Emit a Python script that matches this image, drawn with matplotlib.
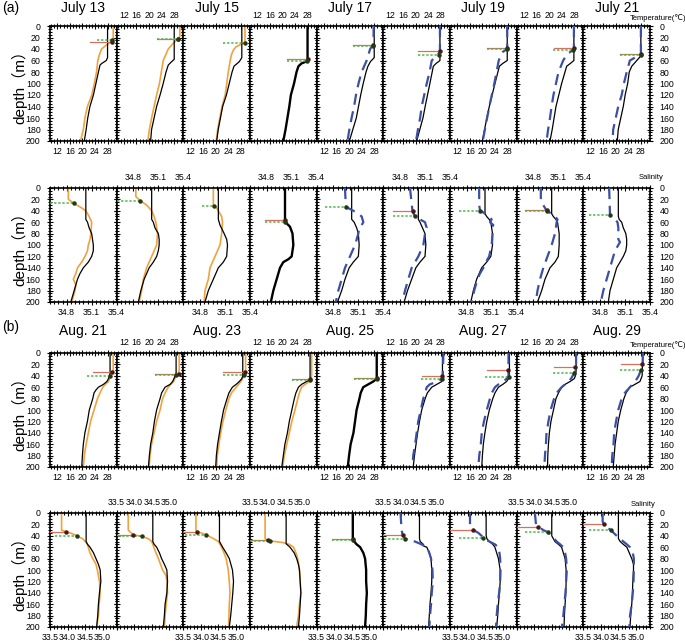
"""
Profils verticaux temperature / salinite, juillet (a) et aout (b).
9 colonnes par ligne : profil observe (noir) et profil compare
(orange ou tirets bleus), avec les reperes de couche melangee.
"""
import matplotlib
matplotlib.use("Agg")
import matplotlib.pyplot as plt
from matplotlib.ticker import MultipleLocator, FixedLocator

plt.rcParams["font.family"] = ["Liberation Sans", "DejaVu Sans", "Noto Sans CJK SC"]

W, H = 685, 642

# ---------------------------------------------------------------- titres
jul_titles = ["July 13", "", "July 15", "", "July 17", "", "July 19", "", "July 21"]
aug_titles = ["Aug. 21", "", "Aug. 23", "", "Aug. 25", "", "Aug. 27", "", "Aug. 29"]

# type du 2e profil : o = orange, b = tirets bleus, k = noir seul
jul_kind = ["o", "o", "o", "k", "b", "b", "b", "b", "b"]
aug_kind = ["o", "o", "o", "o", "k", "b", "b", "b", "b"]

# ---------------------------------------------------------------- (a) temperature juillet
jul_temp_obs = [
    ([0, 55, 60, 65, 68, 80, 100, 120, 140, 160, 180, 200],
     [28.0, 28.0, 27.6, 26.2, 25.6, 25.1, 24.3, 23.5, 22.4, 21.7, 21.2, 20.6]),
    ([0, 58, 63, 68, 80, 100, 120, 140, 160, 180, 200],
     [28.0, 28.0, 27.0, 26.1, 25.4, 24.5, 23.5, 22.4, 21.6, 20.8, 20.5]),
    ([0, 55, 62, 70, 80, 100, 120, 140, 160, 180, 200],
     [28.3, 28.3, 27.5, 25.8, 25.2, 24.3, 23.4, 22.2, 21.5, 20.8, 20.3]),
    ([0, 57, 62, 65, 70, 80, 100, 120, 140, 160, 180, 200],
     [28.0, 28.0, 27.5, 26.1, 25.1, 24.5, 23.7, 22.7, 22.2, 21.6, 21.0, 20.3]),
    ([0, 55, 62, 70, 80, 100, 120, 140, 160, 180, 200],
     [28.0, 28.0, 26.8, 26.0, 25.4, 24.5, 23.7, 23.0, 22.3, 21.2, 20.1]),
    ([0, 60, 65, 70, 100, 140, 160, 180, 200],
     [27.7, 27.7, 26.5, 25.6, 24.5, 23.0, 22.3, 21.3, 20.3]),
    ([0, 60, 65, 70, 100, 140, 160, 180, 200],
     [27.9, 27.9, 26.5, 25.4, 24.0, 22.2, 21.4, 20.7, 20.0]),
    ([0, 60, 65, 70, 100, 140, 160, 180, 200],
     [27.9, 27.9, 26.8, 25.6, 24.0, 22.2, 21.6, 21.0, 20.3]),
    ([0, 52, 60, 70, 80, 100, 120, 140, 160, 180, 200],
     [28.0, 28.0, 26.7, 25.1, 24.3, 23.8, 23.0, 22.4, 21.6, 20.8, 20.5]),
]
jul_temp_mod = [
    ([0, 25, 27, 35, 40, 50, 60, 80, 100, 120, 140, 160, 180, 200],
     [29.8, 29.8, 29.2, 27.2, 26.1, 25.4, 24.9, 24.5, 23.8, 23.0, 21.6, 20.8, 20.3, 19.4]),
    ([0, 18, 22, 30, 40, 50, 60, 80, 100, 120, 140, 160, 180, 200],
     [29.8, 29.8, 29.3, 27.7, 26.1, 25.3, 24.5, 23.9, 23.3, 22.4, 21.6, 20.8, 20.1, 19.6]),
    ([0, 28, 32, 36, 42, 50, 60, 80, 100, 120, 140, 160, 180, 200],
     [29.3, 29.3, 28.0, 26.5, 25.6, 25.0, 24.6, 24.0, 23.5, 23.0, 22.0, 21.3, 20.6, 20.2]),
    None,
    ([0, 30, 33, 40, 60, 80, 100, 120, 140, 160, 180, 200],
     [27.8, 27.8, 27.7, 26.7, 25.6, 24.0, 23.0, 22.2, 21.6, 20.8, 20.1, 19.5]),
    ([0, 40, 45, 50, 55, 60, 80, 100, 120, 140, 160, 180, 200],
     [27.7, 27.7, 27.6, 27.0, 26.1, 25.1, 24.4, 23.5, 22.7, 21.9, 21.4, 20.7, 20.1]),
    ([0, 40, 45, 55, 60, 80, 100, 140, 180, 200],
     [27.9, 27.9, 26.5, 25.6, 25.2, 24.5, 23.8, 22.2, 20.8, 20.1]),
    ([0, 38, 42, 50, 60, 80, 100, 120, 140, 160, 180, 200],
     [27.9, 27.9, 27.5, 25.6, 24.5, 23.0, 22.2, 21.4, 20.8, 20.3, 19.7, 19.2]),
    ([0, 50, 55, 60, 80, 100, 120, 140, 160, 180, 200],
     [28.0, 28.0, 26.1, 24.5, 23.5, 22.6, 21.9, 20.8, 20.0, 19.2, 19.0]),
]
# reperes : (profondeur, x debut, x fin)
jul_temp_red = [(27, 22.4, 29.3), (22, 22.4, 29.3), None, (57, 21.6, 28.0), (33, 21.2, 27.7),
                (43, 20.8, 27.7), (39, 21.4, 27.8), (38, 21.6, 27.9), (49.5, 21.4, 28.0)]
jul_temp_green = [(25, 24.5, 29.3), (23, 22.4, 29.3), (30, 22.4, 29.3), (61, 21.6, 27.8),
                  (34, 21.2, 27.7), (50, 20.8, 27.4), (40, 21.4, 27.7), (42, 21.4, 27.7),
                  (50, 21.4, 28.0)]

# ---------------------------------------------------------------- (a) salinite juillet
jul_sal_obs = [
    ([0, 55, 60, 70, 80, 90, 100, 110, 120, 130, 140, 150, 160, 180, 200],
     [35.03, 35.03, 35.05, 35.07, 35.10, 35.11, 35.12, 35.12, 35.10, 35.06, 35.00, 34.96, 34.93, 34.89, 34.85]),
    ([0, 55, 60, 70, 80, 90, 100, 110, 120, 130, 140, 160, 180, 200],
     [35.02, 35.02, 35.04, 35.06, 35.10, 35.11, 35.11, 35.10, 35.08, 35.04, 34.99, 34.93, 34.89, 34.86]),
    ([0, 55, 65, 80, 90, 100, 120, 130, 140, 160, 180, 200],
     [35.02, 35.02, 35.04, 35.09, 35.12, 35.13, 35.12, 35.08, 35.02, 34.96, 34.90, 34.86]),
    ([0, 57, 62, 68, 80, 100, 110, 120, 125, 130, 140, 160, 180, 200],
     [35.02, 35.02, 35.04, 35.08, 35.11, 35.12, 35.11, 35.10, 35.06, 35.00, 34.96, 34.92, 34.88, 34.85]),
    ([0, 55, 60, 70, 80, 100, 120, 130, 140, 160, 180, 200],
     [35.02, 35.02, 35.05, 35.08, 35.10, 35.11, 35.10, 35.04, 34.99, 34.94, 34.90, 34.85]),
    ([0, 55, 60, 70, 80, 100, 120, 130, 140, 160, 180, 200],
     [35.02, 35.02, 35.04, 35.07, 35.10, 35.11, 35.10, 35.04, 34.99, 34.94, 34.89, 34.85]),
    ([0, 45, 50, 55, 60, 70, 80, 100, 120, 130, 140, 160, 180, 200],
     [35.02, 35.02, 35.04, 35.07, 35.09, 35.10, 35.11, 35.11, 35.09, 35.04, 34.98, 34.92, 34.88, 34.85]),
    ([0, 45, 50, 55, 60, 80, 100, 120, 130, 140, 160, 180, 200],
     [35.02, 35.02, 35.04, 35.07, 35.09, 35.11, 35.11, 35.10, 35.06, 35.00, 34.94, 34.90, 34.85]),
    ([0, 50, 55, 60, 70, 80, 90, 100, 110, 120, 130, 140, 160, 180, 200],
     [35.02, 35.02, 35.03, 35.06, 35.08, 35.11, 35.12, 35.12, 35.11, 35.08, 35.04, 35.00, 34.96, 34.92, 34.90]),
]
jul_sal_mod = [
    ([0, 20, 27, 35, 40, 50, 60, 80, 90, 100, 110, 120, 130, 140, 150, 160, 170, 180, 200],
     [34.82, 34.82, 34.89, 34.98, 35.03, 35.07, 35.10, 35.09, 35.08, 35.06, 35.05, 35.02, 34.98, 34.93, 34.91, 34.88, 34.91, 34.90, 34.86]),
    ([0, 15, 22, 30, 40, 50, 60, 80, 100, 110, 120, 140, 160, 180, 200],
     [34.83, 34.83, 34.88, 34.96, 35.02, 35.05, 35.07, 35.09, 35.08, 35.05, 35.02, 34.96, 34.92, 34.90, 34.87]),
    ([0, 30, 35, 40, 50, 60, 80, 100, 120, 140, 160, 180, 200],
     [34.96, 34.96, 35.00, 35.02, 35.06, 35.07, 35.06, 35.04, 34.98, 34.92, 34.90, 34.86, 34.85]),
    None,
    ([0, 33, 40, 45, 50, 60, 65, 70, 80, 90, 100, 120, 140, 160, 180, 200],
     [34.94, 34.95, 35.04, 35.10, 35.14, 35.16, 35.14, 35.11, 35.10, 35.08, 35.06, 35.00, 34.94, 34.90, 34.86, 34.83]),
    ([0, 41, 50, 55, 60, 70, 80, 100, 120, 140, 160, 180, 200],
     [34.92, 34.95, 34.98, 35.04, 35.10, 35.12, 35.10, 35.08, 35.02, 34.94, 34.90, 34.86, 34.83]),
    ([0, 30, 39, 45, 50, 55, 60, 65, 70, 80, 100, 120, 130, 140, 150, 160, 180, 200],
     [34.95, 34.95, 34.96, 35.02, 35.06, 35.10, 35.08, 35.12, 35.10, 35.11, 35.10, 35.07, 35.03, 35.00, 34.96, 34.93, 34.89, 34.86]),
    ([0, 20, 30, 40, 45, 50, 55, 60, 80, 100, 120, 140, 160, 180, 200],
     [34.89, 34.89, 34.92, 34.96, 35.02, 35.06, 35.09, 35.08, 35.06, 35.02, 34.97, 34.92, 34.88, 34.85, 34.83]),
    ([0, 48, 55, 60, 70, 80, 90, 95, 100, 110, 120, 140, 160, 180, 200],
     [34.91, 34.92, 34.98, 35.01, 35.02, 35.02, 35.02, 35.04, 35.02, 34.98, 34.96, 34.92, 34.88, 34.84, 34.81]),
]
jul_sal_red = [None, None, None, (57, 34.78, 35.02), None,
               (41, 34.72, 34.95), None, (39, 34.70, 34.96), None]
jul_sal_green = [(27, 34.60, 34.89), (22, 34.60, 34.88), (31, 34.82, 34.97), (60, 34.78, 35.02),
                 (33, 34.70, 34.95), (49, 34.72, 34.98), (40, 34.71, 34.96), (41, 34.70, 34.96),
                 (48, 34.67, 34.92)]

# ---------------------------------------------------------------- (b) temperature aout
aug_temp_obs = [
    ([0, 35, 40, 45, 50, 55, 60, 65, 70, 80, 100, 120, 140, 160, 180, 200],
     [28.8, 28.8, 28.6, 28.3, 27.8, 26.7, 25.1, 24.3, 23.7, 23.3, 22.2, 21.6, 20.8, 20.3, 20.0, 19.8]),
    ([0, 35, 40, 50, 55, 60, 70, 80, 100, 120, 140, 160, 180, 200],
     [28.6, 28.6, 28.3, 27.5, 26.7, 25.1, 24.0, 23.5, 22.4, 21.7, 21.2, 20.5, 20.1, 19.8]),
    ([0, 40, 45, 50, 55, 60, 70, 80, 100, 120, 140, 160, 180, 200],
     [28.6, 28.6, 28.3, 27.5, 26.5, 25.3, 24.2, 23.6, 22.5, 21.8, 21.2, 20.6, 20.2, 20.0]),
    ([0, 42, 47, 50, 55, 60, 70, 80, 100, 120, 140, 160, 180, 200],
     [28.8, 28.8, 28.8, 27.7, 26.1, 25.1, 24.3, 23.8, 23.0, 22.2, 21.6, 20.8, 20.3, 19.8]),
    ([0, 40, 45, 50, 55, 60, 70, 80, 100, 120, 140, 160, 180, 200],
     [28.8, 28.8, 28.8, 27.7, 26.1, 24.5, 23.7, 23.3, 22.4, 21.9, 21.4, 20.5, 20.0, 19.6]),
    ([0, 40, 50, 55, 60, 70, 80, 100, 120, 140, 160, 180, 200],
     [28.5, 28.5, 28.3, 26.7, 25.1, 23.7, 23.0, 21.9, 21.2, 20.6, 20.1, 19.6, 19.2]),
    ([0, 40, 45, 50, 55, 60, 70, 80, 100, 120, 140, 160, 180, 200],
     [28.6, 28.6, 28.3, 27.7, 26.5, 25.1, 24.0, 23.3, 22.2, 21.4, 20.8, 20.3, 20.0, 19.8]),
    ([0, 30, 40, 45, 50, 55, 60, 70, 80, 100, 120, 140, 160, 180, 200],
     [28.6, 28.6, 28.4, 28.0, 26.7, 25.1, 24.0, 23.0, 22.2, 21.4, 20.6, 20.1, 19.8, 19.6, 19.5]),
    ([0, 40, 50, 55, 60, 70, 80, 100, 120, 140, 160, 180, 200],
     [28.6, 28.4, 27.7, 26.1, 24.5, 23.3, 22.6, 21.6, 20.8, 20.3, 19.8, 19.5, 19.2]),
]
aug_temp_mod = [
    ([0, 30, 40, 50, 55, 60, 70, 80, 100, 120, 140, 160, 180, 200],
     [29.8, 29.8, 29.0, 28.3, 27.3, 26.5, 25.6, 24.8, 23.7, 22.6, 21.9, 21.2, 20.6, 20.3]),
    ([0, 30, 35, 40, 50, 60, 70, 80, 100, 120, 140, 160, 180, 200],
     [29.6, 29.6, 29.3, 28.6, 27.8, 26.1, 25.1, 24.3, 23.5, 22.4, 21.6, 20.8, 20.3, 20.0]),
    ([0, 35, 40, 50, 60, 70, 80, 100, 120, 140, 160, 180, 200],
     [29.5, 29.5, 29.0, 28.0, 26.5, 25.0, 24.2, 23.2, 22.3, 21.6, 21.0, 20.5, 20.3]),
    ([0, 40, 45, 50, 55, 60, 70, 80, 100, 120, 140, 160, 180, 200],
     [29.3, 29.3, 29.1, 28.6, 27.2, 26.1, 25.4, 24.9, 24.0, 23.0, 22.2, 21.4, 20.6, 20.1]),
    None,
    ([0, 40, 45, 50, 55, 60, 70, 80, 100, 120, 140, 160, 180, 200],
     [28.8, 28.6, 28.3, 27.0, 24.5, 23.5, 23.0, 22.4, 21.6, 20.8, 20.3, 19.8, 19.2, 19.0]),
    ([0, 40, 45, 50, 55, 60, 70, 80, 100, 120, 140, 160, 180, 200],
     [28.3, 28.3, 27.7, 26.7, 25.1, 24.0, 23.0, 22.4, 21.4, 20.5, 19.8, 19.5, 19.0, 18.7]),
    ([0, 30, 35, 45, 50, 55, 60, 70, 80, 100, 120, 140, 160, 180, 200],
     [28.6, 28.6, 28.0, 27.0, 26.2, 25.1, 24.0, 22.4, 21.6, 20.5, 19.8, 19.2, 19.0, 18.7, 18.5]),
    ([0, 25, 30, 40, 50, 60, 70, 80, 100, 120, 140, 160, 180, 200],
     [28.6, 28.6, 28.0, 27.3, 26.2, 24.5, 22.9, 21.9, 20.8, 20.1, 19.5, 19.3, 18.9, 18.7]),
]
aug_temp_red = [(33, 23.3, 29.5), (37, 22.0, 29.4), (33, 22.4, 29.4), (46, 23.0, 28.8),
                (44, 21.6, 28.8), (40, 21.9, 28.5), (29, 21.4, 28.3), (24, 21.6, 28.1),
                (20, 21.6, 28.3)]
aug_temp_green = [(40, 21.6, 28.8), (39, 22.0, 28.6), (38, 22.4, 29.1), (47, 23.0, 28.8),
                  (45.5, 21.6, 28.8), (45, 21.6, 28.3), (42, 20.8, 28.4), (35, 21.4, 27.9),
                  (30, 21.4, 28.0)]

# ---------------------------------------------------------------- (b) salinite aout
aug_sal_obs = [
    ([0, 50, 55, 60, 70, 80, 90, 100, 120, 140, 160, 180, 200],
     [34.53, 34.53, 34.57, 34.64, 34.74, 34.81, 34.88, 34.93, 34.95, 34.91, 34.88, 34.86, 34.83]),
    ([0, 50, 55, 60, 70, 80, 90, 100, 120, 140, 160, 180, 200],
     [34.53, 34.53, 34.57, 34.64, 34.72, 34.78, 34.86, 34.93, 34.95, 34.93, 34.88, 34.86, 34.83]),
    ([0, 50, 60, 70, 80, 100, 120, 140, 160, 180, 200],
     [34.53, 34.53, 34.62, 34.72, 34.81, 34.90, 34.93, 34.91, 34.88, 34.85, 34.81]),
    ([0, 54, 60, 70, 80, 90, 100, 120, 140, 160, 180, 200],
     [34.53, 34.53, 34.64, 34.76, 34.83, 34.88, 34.91, 34.93, 34.95, 34.93, 34.91, 34.88]),
    ([0, 45, 50, 55, 60, 70, 80, 100, 120, 140, 160, 180, 200],
     [34.53, 34.53, 34.57, 34.64, 34.74, 34.83, 34.88, 34.91, 34.91, 34.93, 34.91, 34.90, 34.88]),
    ([0, 45, 50, 55, 58, 60, 70, 80, 100, 120, 140, 160, 180, 200],
     [34.53, 34.53, 34.55, 34.64, 34.65, 34.74, 34.81, 34.86, 34.88, 34.88, 34.86, 34.83, 34.81, 34.79]),
    ([0, 39, 45, 50, 55, 60, 70, 80, 100, 120, 140, 160, 180, 200],
     [34.53, 34.53, 34.55, 34.62, 34.72, 34.78, 34.83, 34.88, 34.93, 34.93, 34.91, 34.88, 34.86, 34.83]),
    ([0, 40, 50, 55, 60, 70, 80, 100, 120, 140, 160, 180, 200],
     [34.50, 34.50, 34.59, 34.69, 34.78, 34.83, 34.88, 34.91, 34.91, 34.90, 34.88, 34.86, 34.85]),
    ([0, 45, 50, 55, 60, 70, 80, 90, 100, 120, 140, 160, 180, 200],
     [34.50, 34.50, 34.55, 34.64, 34.74, 34.81, 34.88, 34.93, 34.93, 34.91, 34.90, 34.88, 34.85, 34.83]),
]
aug_sal_mod = [
    ([0, 30, 33, 35, 38, 41, 45, 50, 55, 60, 70, 80, 90, 100, 110, 120, 140, 160, 180, 200],
     [33.83, 33.83, 33.96, 34.07, 34.21, 34.28, 34.43, 34.50, 34.57, 34.59, 34.64, 34.72, 34.81, 34.85, 34.88, 34.91, 34.93, 34.90, 34.88, 34.83]),
    ([0, 30, 38, 41, 45, 50, 60, 70, 80, 90, 100, 110, 120, 140, 160, 180, 200],
     [33.83, 33.83, 33.96, 34.21, 34.40, 34.50, 34.56, 34.62, 34.69, 34.75, 34.81, 34.91, 34.93, 34.95, 34.91, 34.88, 34.86]),
    ([0, 30, 33, 38, 45, 50, 60, 70, 80, 100, 120, 140, 160, 180, 200],
     [33.86, 33.86, 33.90, 34.15, 34.36, 34.50, 34.59, 34.66, 34.72, 34.78, 34.81, 34.83, 34.81, 34.80, 34.79]),
    ([0, 45, 48, 49, 50, 52, 55, 60, 70, 80, 100, 120, 140, 160, 180, 200],
     [33.93, 33.93, 34.00, 34.08, 34.21, 34.45, 34.62, 34.74, 34.81, 34.86, 34.91, 34.93, 34.95, 34.91, 34.88, 34.83]),
    None,
    ([0, 30, 38, 45, 48, 50, 55, 60, 70, 80, 100, 120, 140, 160, 180, 200],
     [33.99, 34.02, 34.05, 34.12, 34.31, 34.40, 34.59, 34.74, 34.81, 34.86, 34.90, 34.91, 34.88, 34.86, 34.83, 34.81]),
    ([0, 20, 25, 29, 35, 40, 45, 50, 55, 60, 70, 80, 100, 120, 140, 160, 180, 200],
     [34.07, 34.07, 34.12, 34.15, 34.31, 34.40, 34.47, 34.62, 34.78, 34.88, 34.91, 34.93, 34.94, 34.93, 34.90, 34.86, 34.83, 34.81]),
    ([0, 20, 24, 30, 34, 40, 50, 55, 60, 70, 80, 100, 120, 140, 160, 180, 200],
     [34.02, 34.05, 34.12, 34.26, 34.40, 34.50, 34.64, 34.74, 34.83, 34.88, 34.91, 34.93, 34.91, 34.89, 34.86, 34.83, 34.79]),
    ([0, 15, 20, 25, 30, 40, 50, 55, 60, 70, 80, 100, 120, 140, 160, 180, 200],
     [34.05, 34.05, 34.09, 34.17, 34.28, 34.45, 34.64, 34.74, 34.83, 34.91, 34.94, 34.94, 34.93, 34.91, 34.88, 34.83, 34.81]),
]
aug_sal_red = [(33, 33.50, 33.96), (38, 33.50, 33.96), (33, 33.50, 33.90), (47, 33.50, 34.00),
               (45, 33.93, 34.53), (38, 33.50, 34.05), (29, 33.50, 34.15), (24, 33.50, 34.12),
               (20, 33.50, 34.09)]
aug_sal_green = [(41, 33.64, 34.28), (41, 33.55, 34.21), (38, 33.55, 34.15), (49, 33.50, 34.08),
                 (47, 33.93, 34.53), (46, 33.52, 34.12), (43, 33.77, 34.45), (34, 33.74, 34.40),
                 (30, 33.67, 34.28)]

# ---------------------------------------------------------------- axes
temp_lim, temp_ticks, temp_minor = (9.7, 30.9), [12, 16, 20, 24, 28], 1
jsal_lim, jsal_ticks, jsal_minor = (34.6, 35.4), [34.8, 35.1, 35.4], 0.05
asal_lim, asal_ticks, asal_minor = (33.5, 35.4), [33.5, 34.0, 34.5, 35.0], 0.1

rows = [
    (26, 141, jul_temp_obs, jul_temp_mod, jul_temp_red, jul_temp_green, jul_kind,
     temp_lim, temp_ticks, temp_minor, "{:g}"),
    (188, 302, jul_sal_obs, jul_sal_mod, jul_sal_red, jul_sal_green, jul_kind,
     jsal_lim, jsal_ticks, jsal_minor, "{:.1f}"),
    (353, 467, aug_temp_obs, aug_temp_mod, aug_temp_red, aug_temp_green, aug_kind,
     temp_lim, temp_ticks, temp_minor, "{:g}"),
    (513, 627, aug_sal_obs, aug_sal_mod, aug_sal_red, aug_sal_green, aug_kind,
     asal_lim, asal_ticks, asal_minor, "{:.1f}"),
]

ORANGE = "#f2a23c"
BLUE = "#3d4fa3"
RED = "#d9705f"
GREEN = "#45b845"

fig = plt.figure(figsize=(W / 100, H / 100), dpi=100)

x0, pw = 50, 600 / 9
for (top, bot, obs, mod, red, green, kind, xlim, xt, xminor, fmt) in rows:
    for i in range(9):
        ax = fig.add_axes([(x0 + i * pw) / W, 1 - bot / H, pw / W, (bot - top) / H])
        z, v = obs[i]
        lw_k = 1.7 if kind[i] == "k" else 0.9
        ax.plot(v, z, color="black", lw=lw_k, zorder=3)
        if mod[i] is not None:
            zm, vm = mod[i]
            if kind[i] == "o":
                ax.plot(vm, zm, color=ORANGE, lw=1.2, zorder=2)
            else:
                ax.plot(vm, zm, color=BLUE, lw=1.6, dashes=(5, 3), zorder=4)
        if red[i] is not None:
            d, a, b = red[i]
            ax.plot([a, b], [d, d], color=RED, lw=0.9, zorder=5)
            ax.plot(b, d, "o", ms=2.2, color="#4a1810", zorder=6)
        if green[i] is not None:
            d, a, b = green[i]
            ax.plot([a, b], [d, d], color=GREEN, lw=1.1, ls=(0, (1.5, 1.2)), zorder=5)
            ax.plot(b, d, "o", ms=2.2, color="#203a18", zorder=6)

        ax.set_xlim(*xlim)
        ax.set_ylim(200, 0)
        ax.xaxis.set_major_locator(FixedLocator(xt))
        ax.xaxis.set_minor_locator(MultipleLocator(xminor))
        ax.set_xticklabels([fmt.format(t) for t in xt])
        ax.yaxis.set_major_locator(MultipleLocator(20))
        ax.yaxis.set_minor_locator(MultipleLocator(5))
        for s in ax.spines.values():
            s.set_linewidth(1.2)
        ax.tick_params(which="both", direction="inout", top=True, bottom=True,
                       left=True, right=True, width=0.8, labelsize=6.3)
        ax.tick_params(which="major", length=4.5)
        ax.tick_params(which="minor", length=2.5)
        ax.tick_params(axis="x", pad=2.0,
                       labelbottom=(i % 2 == 0), labeltop=(i % 2 == 1))
        ax.tick_params(axis="y", pad=4.5, labelleft=(i == 0), labelright=(i == 8))

# titres des dates
for top, titles in [(8, jul_titles), (331, aug_titles)]:
    for i, t in enumerate(titles):
        if t:
            fig.text((x0 + (i + 0.5) * pw) / W, 1 - top / H, t, fontsize=10,
                     ha="center", va="center")

# etiquettes de lignes
for yc in [(26 + 141) / 2, (188 + 302) / 2, (353 + 467) / 2, (513 + 627) / 2]:
    fig.text(19 / W, 1 - yc / H, "depth（m）", rotation=90, fontsize=11,
             ha="center", va="center")

fig.text(2 / W, 1 - 8 / H, "(a)", fontsize=10, ha="left", va="center")
fig.text(2 / W, 1 - 327 / H, "(b)", fontsize=10, ha="left", va="center")

fig.text(658 / W, 1 - 18 / H, "Temperature(℃)", fontsize=5.5, ha="center", va="center")
fig.text(651 / W, 1 - 178 / H, "Salinity", fontsize=5.5, ha="center", va="center")
fig.text(658 / W, 1 - 345 / H, "Temperature(℃)", fontsize=5.5, ha="center", va="center")
fig.text(643 / W, 1 - 505 / H, "Salinity", fontsize=5.5, ha="center", va="center")

fig.savefig("out.png", dpi=100)
